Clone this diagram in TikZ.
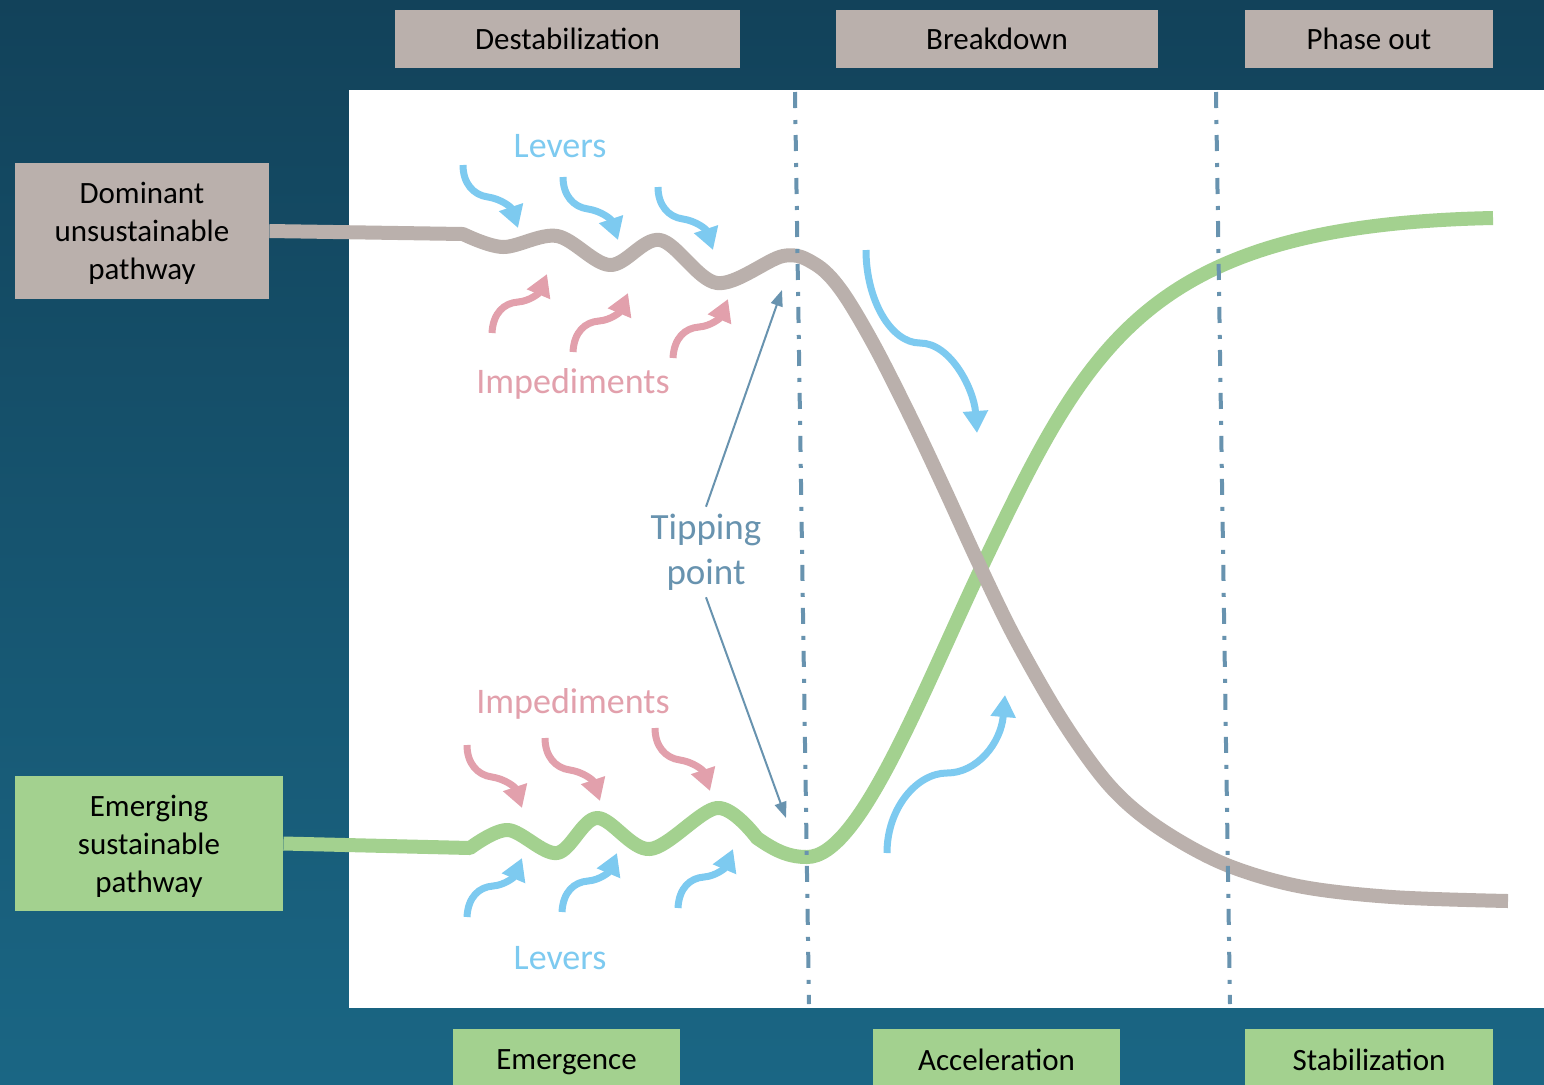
\documentclass[tikz,border=0pt]{standalone}
\usepackage{fontspec}
\setmainfont{Carlito}
\usetikzlibrary{arrows.meta}
\definecolor{bgtop}{HTML}{12425A}
\definecolor{bgbot}{HTML}{1A6684}
\definecolor{pathgray}{HTML}{BAB0AC}
\definecolor{pathgreen}{HTML}{A3D18F}
\definecolor{leverblue}{HTML}{7DCAF0}
\definecolor{impedpink}{HTML}{E2A0AC}
\definecolor{tipslate}{HTML}{6893AF}
\tikzset{phase box/.style={
  fill=#1,
  inner sep=0pt,
  text depth=0pt,
  minimum height=29pt,
  font=\fontsize{15.5}{19}\selectfont
  }
}
\tikzset{my lever arrow/.style={
  leverblue,
  line width=3.5pt,
  -{Triangle[length=11pt,width=12pt]}
  }
}
\tikzset{my impediment arrow/.style={
  impedpink,
  line width=3.5pt,
  -{Triangle[length=11pt,width=12pt]}
  }
}
\tikzset{my tipping arrow/.style={
  tipslate,
  line width=1pt,
  -{Triangle[length=8pt,width=6pt]}
  }
}
\tikzset{my stage line/.style={
  tipslate,
  line width=2pt,
  dash pattern=on 8pt off 6pt on 2pt off 5.5pt
  }
}
\tikzset{my pathway/.style={
  #1,
  line width=7pt,
  line join=round
  }
}
\begin{document}
\begin{tikzpicture}[x=0.5pt,y=-0.5pt]
    \shade[top color=bgtop,bottom color=bgbot] (0,0) rectangle (1544,1084);
    \useasboundingbox (0,0) rectangle (1544,1084);
    \fill[white] (349,90) rectangle (1544,1008);

    \foreach \x/\w/\t [count=\n] in {567.5/172.5/Destabilization,997/161/Breakdown,1369/124/Phase out}
        \node[phase box=pathgray,minimum width=\w pt](Top\n) at (\x,39){\t};

    \foreach \x/\w/\t [count=\n] in {566.5/113.5/Emergence,996.5/123.5/Acceleration,1369/124/Stabilization}
        \node[phase box=pathgreen,minimum width=\w pt,minimum height=31pt](Bot\n) at (\x,1060){\t};

    \node[phase box=pathgray,minimum width=127pt,minimum height=68pt,align=center](Dom) at (142,231){Dominant\\unsustainable\\pathway};
    \node[phase box=pathgreen,minimum width=134pt,minimum height=67.5pt,align=center](Emg) at (149,843.5){Emerging\\sustainable\\pathway};

    \draw[my pathway=pathgreen] (Emg.east) -- plot[smooth,tension=0.55] coordinates {(470,848) (508,830) (557,853) (597,818) (650,849) (717,808) (757,838)} .. controls (777,852) and (790,857) .. (807,857) .. controls (860,857) and (922,692) .. (985,560) .. controls (1090,340) and (1150,225) .. (1493,218);
    \draw[my pathway=pathgray] (Dom.east) -- plot[smooth,tension=0.55] coordinates {(463,234) (503,247) (557,236) (610,265) (660,240) (717,283) (783,256) (815,264) (841,290) (874,345) (912,420) (945,490) (978,562) (1015,638) (1062,720) (1109,785) (1156,826) (1222,863) (1298,886) (1392,897) (1508,901)};

    \foreach \x/\y in {463/165,563/177,658/187}
        \draw[my lever arrow,shift={(\x,\y)}] (0,0) .. controls (0,18) and (10,30) .. (25,32) .. controls (38,34) and (48,42) .. (55,63);
    \foreach \x/\y in {492/333,573/352,673/358}
        \draw[my impediment arrow,shift={(\x,\y)}] (0,0) .. controls (1,-20) and (12,-30) .. (26,-31) .. controls (38,-32) and (47,-40) .. (55,-59);
    \foreach \x/\y in {467/745,545/738,655/728}
        \draw[my impediment arrow,shift={(\x,\y)}] (0,0) .. controls (0,18) and (10,30) .. (25,32) .. controls (38,34) and (48,42) .. (55,63);
    \foreach \x/\y in {467/917,562/912,678/908}
        \draw[my lever arrow,shift={(\x,\y)}] (0,0) .. controls (1,-20) and (12,-30) .. (26,-31) .. controls (38,-32) and (47,-40) .. (55,-59);

    \draw[my lever arrow] (866,250) .. controls (866,300) and (891,343) .. (920,343) .. controls (951,343) and (974,390) .. (977,433);
    \draw[my lever arrow] (887,853) .. controls (887,808) and (917,773) .. (947,773) .. controls (977,773) and (1001,743) .. (1005,695);

    \node[leverblue,font=\fontsize{18}{22}\selectfont](LevTop) at (560,146){Levers};
    \node[impedpink,font=\fontsize{18}{22}\selectfont](ImpTop) at (573,384){Impediments};
    \node[impedpink,font=\fontsize{18}{22}\selectfont](ImpBot) at (573,704){Impediments};
    \node[leverblue,font=\fontsize{18}{22}\selectfont](LevBot) at (560,958){Levers};
    \node[tipslate,font=\fontsize{18.5}{22.5}\selectfont,align=center](Tip) at (706,552){Tipping\\point};

    \coordinate (StageA1) at (795,92);
    \coordinate (StageA2) at (809,1004);
    \coordinate (StageB1) at (1216,92);
    \coordinate (StageB2) at (1230,1004);
    \draw[my stage line] (StageA1) -- (StageA2);
    \draw[my stage line] (StageB1) -- (StageB2);

    \coordinate (TipUp) at (782,290);
    \coordinate (TipDown) at (786,818);
    \draw[my tipping arrow] (Tip.north) -- (TipUp);
    \draw[my tipping arrow] (Tip.south) -- (TipDown);

\end{tikzpicture}
\end{document}
